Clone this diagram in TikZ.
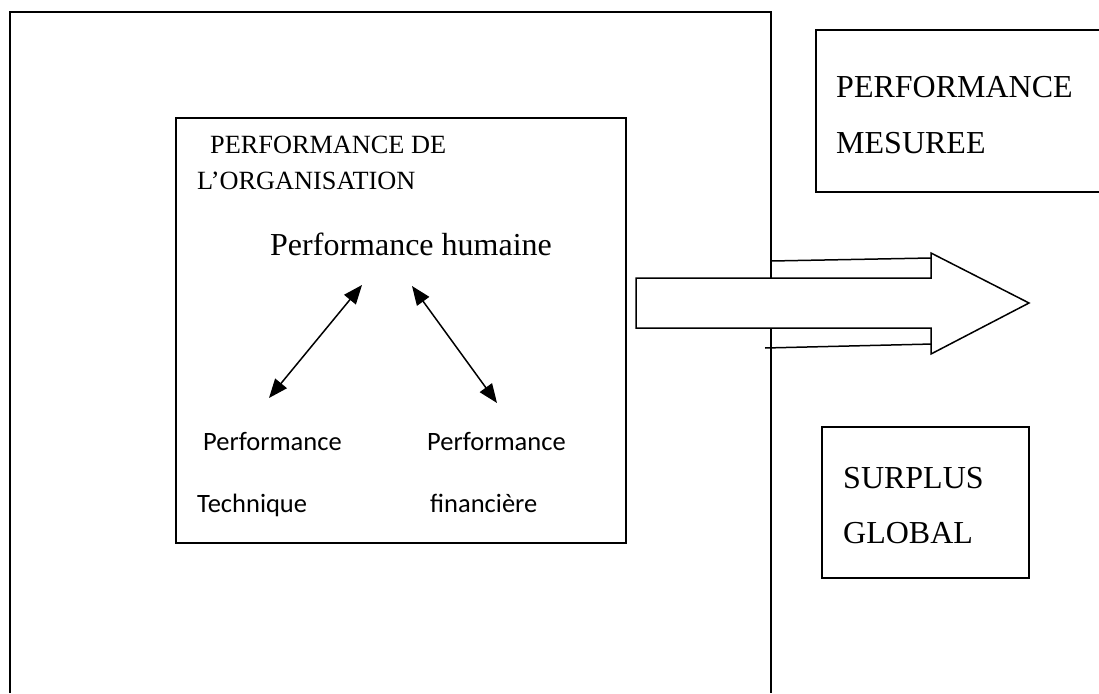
\documentclass[tikz,border=0pt]{standalone}
\usepackage{fontspec}
\setmainfont{Liberation Serif}
\newfontfamily\calfont{Carlito}
\usetikzlibrary{arrows.meta}
\begin{document}
\begin{tikzpicture}[x=1pt,y=-1pt,
  frame/.style={line width=1.5pt,line join=miter},
  label/.style={inner sep=0pt,anchor=base west},
  serif/.style={label,font=\fontsize{26.3}{30}\selectfont},
  bigserif/.style={label,font=\fontsize{32}{36}\selectfont},
  sans/.style={label,font=\calfont\fontsize{26.5}{30}\selectfont},
  link/.style={line width=1.5pt,{Triangle[length=19pt,width=15pt]}-{Triangle[length=19pt,width=15pt]}}]
\useasboundingbox (0,0) rectangle (1099,693);

% outer frame, open at the bottom
\draw[frame] (10,693) -- (10,12) -- (771,12) -- (771,693);

% organisation box
\draw[frame] (176,118) rectangle (626,543);
\node[serif] (org1) at (210,153) {PERFORMANCE DE};
\node[serif] (org2) at (197,189) {L'ORGANISATION};
\node[bigserif] (hum) at (270,255) {Performance humaine};
\node[sans] (tec1) at (203,450) {Performance};
\node[sans] (tec2) at (197,512) {Technique};
\node[sans] (fin1) at (427,450) {Performance};
\node[sans] (fin2) at (430,512) {financière};

\coordinate (hL) at (362,285);
\coordinate (tL) at (269,398);
\coordinate (hR) at (412,286);
\coordinate (fR) at (497,403);
\draw[link] (tL) -- (hL);
\draw[link] (hR) -- (fR);

% measured performance box, cut at the right edge
\draw[frame] (1099,30) -- (816,30) -- (816,192) -- (1099,192);
\node[bigserif] (mes1) at (836,97) {PERFORMANCE};
\node[bigserif] (mes2) at (836,153) {MESUREE};

% global surplus box
\draw[frame] (822,427) rectangle (1029,578);
\node[bigserif] (sur1) at (843,488) {SURPLUS};
\node[bigserif] (sur2) at (843,543) {GLOBAL};

% guide lines beside the big arrow
\draw[line width=1.5pt] (771,261) -- (931,258);
\draw[line width=1.5pt] (765,348) -- (933,344);

% big block arrow
\draw[frame,fill=white] (636,278) -- (931,278) -- (931,253) -- (1029,303)
  -- (931,354) -- (931,328) -- (636,328) -- cycle;
\end{tikzpicture}
\end{document}
